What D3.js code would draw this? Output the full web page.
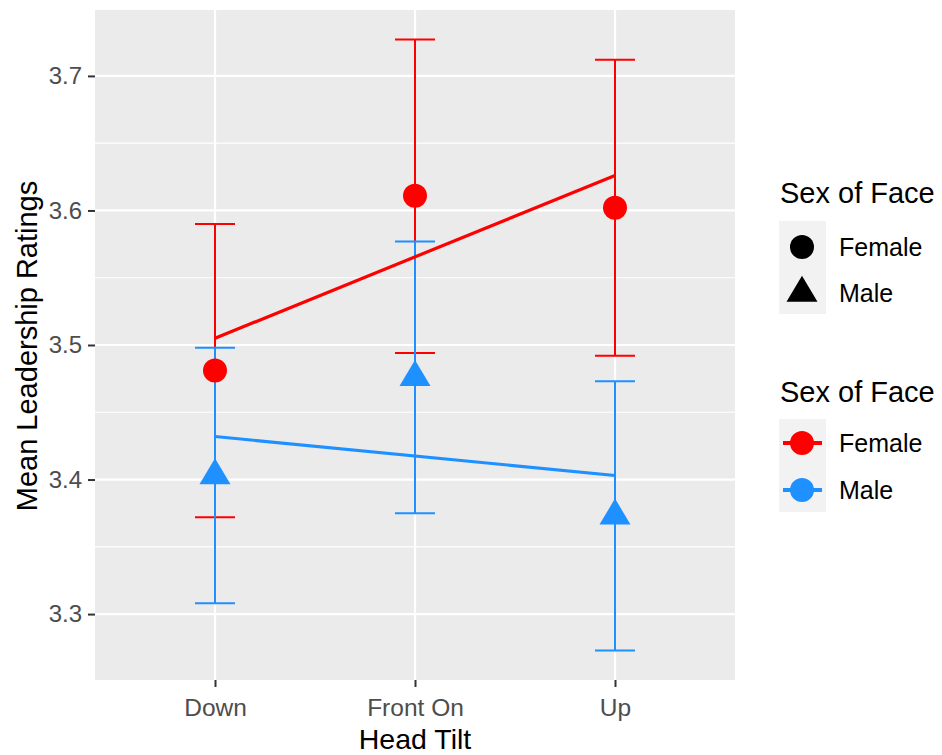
<!DOCTYPE html>
<html>
<head>
<meta charset="utf-8">
<script src="https://cdn.jsdelivr.net/npm/d3@7"></script>
<style>
  html, body { margin: 0; padding: 0; background: #fff; }
  svg { display: block; font-family: "Liberation Sans", Arial, sans-serif; }
</style>
</head>
<body>
<svg id="chart" width="942" height="755"></svg>
<script>
// Head tilt conditions on the x axis
const categories = ["Down", "Front On", "Up"];
const groups = ["Female", "Male"];

// Mean leadership rating per condition
const femaleMeans = [3.481, 3.611, 3.602];
const maleMeans   = [3.403, 3.476, 3.373];

// Error bar bounds (lower, upper)
const femaleLower = [3.372, 3.494, 3.492];
const femaleUpper = [3.590, 3.727, 3.712];
const maleLower   = [3.308, 3.375, 3.273];
const maleUpper   = [3.498, 3.577, 3.473];

// Linear trend endpoints (at Down and at Up)
const femaleTrend = [3.505, 3.626];
const maleTrend   = [3.432, 3.403];

const yTicks = [3.3, 3.4, 3.5, 3.6, 3.7];
const yMinor = [3.35, 3.45, 3.55, 3.65];

const colors = { Female: "#FF0000", Male: "#1E90FF" };

const series = [
  { name: "Female", means: femaleMeans, lo: femaleLower, hi: femaleUpper, trend: femaleTrend, shape: "circle" },
  { name: "Male",   means: maleMeans,   lo: maleLower,   hi: maleUpper,   trend: maleTrend,   shape: "triangle" }
];

const svg = d3.select("#chart");
const panel = { left: 95, top: 10, right: 735, bottom: 680 };
const FONT = "'Liberation Sans', Arial, sans-serif";

// Discrete x axis with 0.6 unit padding on both sides
const x = d3.scaleLinear().domain([0.4, 3.6]).range([panel.left, panel.right]);
const xPos = i => x(i + 1);
const y = d3.scaleLinear().domain([3.2510, 3.7490]).range([panel.bottom, panel.top]);

// Panel background
svg.append("rect")
  .attr("x", panel.left).attr("y", panel.top)
  .attr("width", panel.right - panel.left).attr("height", panel.bottom - panel.top)
  .attr("fill", "#EBEBEB");

const grid = svg.append("g");
grid.selectAll("line.minor").data(yMinor).join("line")
  .attr("x1", panel.left).attr("x2", panel.right)
  .attr("y1", d => y(d)).attr("y2", d => y(d))
  .attr("stroke", "#fff").attr("stroke-width", 1.2);
grid.selectAll("line.majory").data(yTicks).join("line")
  .attr("x1", panel.left).attr("x2", panel.right)
  .attr("y1", d => y(d)).attr("y2", d => y(d))
  .attr("stroke", "#fff").attr("stroke-width", 2.2);
grid.selectAll("line.majorx").data(categories).join("line")
  .attr("x1", (d, i) => xPos(i)).attr("x2", (d, i) => xPos(i))
  .attr("y1", panel.top).attr("y2", panel.bottom)
  .attr("stroke", "#fff").attr("stroke-width", 2.2);

// Axes
const yAxis = d3.axisLeft(y).tickValues(yTicks).tickFormat(d3.format(".1f")).tickSize(7).tickPadding(6);
const gy = svg.append("g").attr("transform", `translate(${panel.left},0)`).call(yAxis);
gy.select(".domain").remove();
gy.selectAll(".tick line").attr("stroke", "#333").attr("stroke-width", 2);
gy.selectAll(".tick text").attr("fill", "#4D4D4D").style("font-size", "24px").style("font-family", FONT);

const xBand = d3.scalePoint().domain(categories).range([xPos(0), xPos(2)]);
const xAxis = d3.axisBottom(xBand).tickSize(7).tickPadding(12);
const gx = svg.append("g").attr("transform", `translate(0,${panel.bottom})`).call(xAxis);
gx.select(".domain").remove();
gx.selectAll(".tick line").attr("stroke", "#333").attr("stroke-width", 2);
gx.selectAll(".tick text").attr("fill", "#4D4D4D").style("font-size", "24.5px").style("font-family", FONT);

// Axis titles
svg.append("text")
  .attr("x", (panel.left + panel.right) / 2).attr("y", 749)
  .attr("text-anchor", "middle").attr("fill", "#000")
  .style("font-size", "28.5px").text("Head Tilt");
svg.append("text")
  .attr("transform", `translate(37,${(panel.top + panel.bottom) / 2 + 1}) rotate(-90)`)
  .attr("text-anchor", "middle").attr("fill", "#000")
  .style("font-size", "29px").text("Mean Leadership Ratings");

const capHalf = (x(1.1) - x(0.9)) / 2;

// Error bars
const eb = svg.append("g");
series.forEach(s => {
  const g = eb.append("g").attr("stroke", colors[s.name]).attr("stroke-width", 2).attr("fill", "none");
  categories.forEach((c, i) => {
    g.append("line").attr("x1", xPos(i)).attr("x2", xPos(i)).attr("y1", y(s.lo[i])).attr("y2", y(s.hi[i]));
    g.append("line").attr("x1", xPos(i) - capHalf).attr("x2", xPos(i) + capHalf).attr("y1", y(s.hi[i])).attr("y2", y(s.hi[i]));
    g.append("line").attr("x1", xPos(i) - capHalf).attr("x2", xPos(i) + capHalf).attr("y1", y(s.lo[i])).attr("y2", y(s.lo[i]));
  });
});

// Trend lines
const trendLine = d3.line().x(d => d[0]).y(d => y(d[1]));
series.slice().reverse().forEach(s => {
  svg.append("path")
    .attr("d", trendLine([[xPos(0), s.trend[0]], [xPos(2), s.trend[1]]]))
    .attr("stroke", colors[s.name]).attr("stroke-width", 3.2).attr("fill", "none");
});

// Point markers
const circleSym = d3.symbol().type(d3.symbolCircle).size(Math.PI * 12 * 12);
function triPath(w, h) {
  // triangle centred on its centroid
  return `M0,${-2 * h / 3}L${w / 2},${h / 3}L${-w / 2},${h / 3}Z`;
}
series.slice().reverse().forEach(s => {
  const g = svg.append("g").attr("fill", colors[s.name]);
  s.means.forEach((m, i) => {
    g.append("path")
      .attr("transform", `translate(${xPos(i)},${y(m)})`)
      .attr("d", s.shape === "circle" ? circleSym() : triPath(31, 26));
  });
});

// Legends
const legX = 780;
function legendTitle(ty, label) {
  svg.append("text").attr("x", legX).attr("y", ty).attr("fill", "#000")
    .style("font-size", "29px").text(label);
}
function legendLabel(ly, label) {
  svg.append("text").attr("x", 839).attr("y", ly).attr("dy", "0.36em").attr("fill", "#000")
    .style("font-size", "25px").text(label);
}

// Shape legend
legendTitle(203, "Sex of Face");
svg.append("rect").attr("x", legX - 1).attr("y", 221).attr("width", 47).attr("height", 93).attr("fill", "#F2F2F2");
const shapeKeys = [247, 293];
groups.forEach((gname, i) => {
  svg.append("path")
    .attr("transform", `translate(${legX + 22},${shapeKeys[i]})`)
    .attr("d", i === 0 ? circleSym() : triPath(31, 26))
    .attr("fill", "#000");
  legendLabel(shapeKeys[i], gname);
});

// Colour legend
legendTitle(402, "Sex of Face");
svg.append("rect").attr("x", legX - 1).attr("y", 419).attr("width", 47).attr("height", 93).attr("fill", "#F2F2F2");
const colKeys = [443, 490];
groups.forEach((gname, i) => {
  svg.append("line")
    .attr("x1", legX + 3).attr("x2", legX + 42)
    .attr("y1", colKeys[i]).attr("y2", colKeys[i])
    .attr("stroke", colors[gname]).attr("stroke-width", 4);
  svg.append("path")
    .attr("transform", `translate(${legX + 22},${colKeys[i]})`)
    .attr("d", circleSym())
    .attr("fill", colors[gname]);
  legendLabel(colKeys[i], gname);
});
</script>
</body>
</html>
